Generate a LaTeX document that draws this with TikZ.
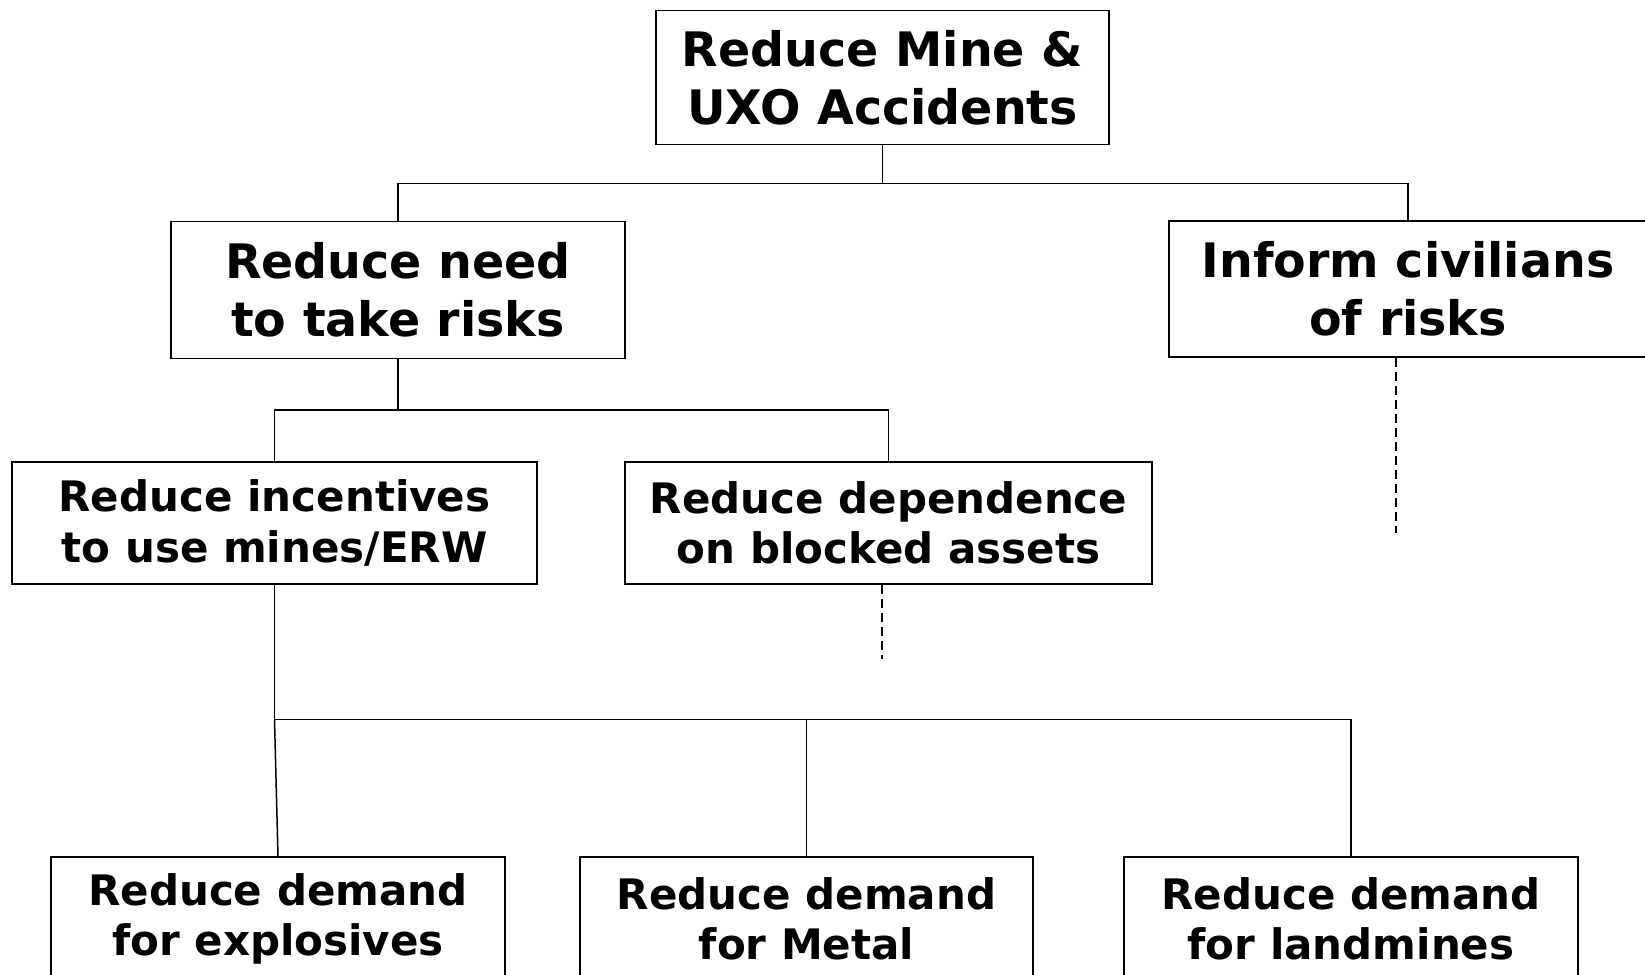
\documentclass[tikz,border=0pt]{standalone}
\usepackage{fontspec}
\setmainfont{DejaVu Sans}
\tikzset{
    goal/.style={draw, line width=1.6pt, align=center, inner sep=0pt,
        font=\bfseries\fontsize{47.5}{57.7}\selectfont},
    subgoal/.style={goal, font=\bfseries\fontsize{42}{50.4}\selectfont},
    link/.style={line width=1.5pt},
    open/.style={line width=1.3pt, dash pattern=on 9pt off 5pt}
}

\begin{document}
\begin{tikzpicture}[x=1pt,y=-1pt]
    \useasboundingbox (0,0) rectangle (1645,974);
    % goals
    \node[goal, minimum width=453pt, minimum height=134pt] (top) at (882.5,77.5)
        {Reduce Mine \&\\UXO Accidents};
    \node[goal, minimum width=454pt, minimum height=137pt] (need) at (398,290)
        {Reduce need\\to take risks};
    \node[goal, minimum width=478pt, minimum height=136pt] (inform) at (1408,289)
        {Inform civilians\\of risks};
    \node[subgoal, minimum width=525pt, minimum height=122pt] (incent) at (274.5,523)
        {Reduce incentives\\to use mines/ERW};
    \node[subgoal, minimum width=527pt, minimum height=122pt] (depend) at (888.5,523)
        {Reduce dependence\\on blocked assets};
    \node[subgoal, minimum width=454pt, minimum height=124pt] (explos) at (278,919)
        {Reduce demand\\for explosives};
    \node[subgoal, minimum width=453pt, minimum height=124pt] (metal) at (806.5,919)
        {Reduce demand\\for Metal};
    \node[subgoal, minimum width=454pt, minimum height=124pt] (landm) at (1351,919)
        {Reduce demand\\for landmines};
    % buses
    \coordinate (bus1) at (0,183.6);
    \coordinate (bus2) at (0,410);
    \coordinate (bus3) at (0,719.7);
    \draw[link] (top.south) -- (top |- bus1);
    \draw[link] (need.north) -- (need |- bus1) -- (inform |- bus1) -- (inform.north);
    \draw[link] (need.south) -- (need |- bus2);
    \draw[link] (incent.north) -- (incent |- bus2) -- (depend |- bus2) -- (depend.north);
    \draw[link] (incent.south) -- (incent |- bus3) -- (landm |- bus3) -- (landm.north);
    \draw[link] (incent |- bus3) -- (explos.north);
    \draw[link] (metal |- bus3) -- (metal.north);
    % open ends
    \coordinate (informEnd) at (1396,533);
    \coordinate (dependEnd) at (882,659);
    \draw[open] (informEnd |- inform.south) -- (informEnd);
    \draw[open] (dependEnd |- depend.south) -- (dependEnd);
\end{tikzpicture}
\end{document}
